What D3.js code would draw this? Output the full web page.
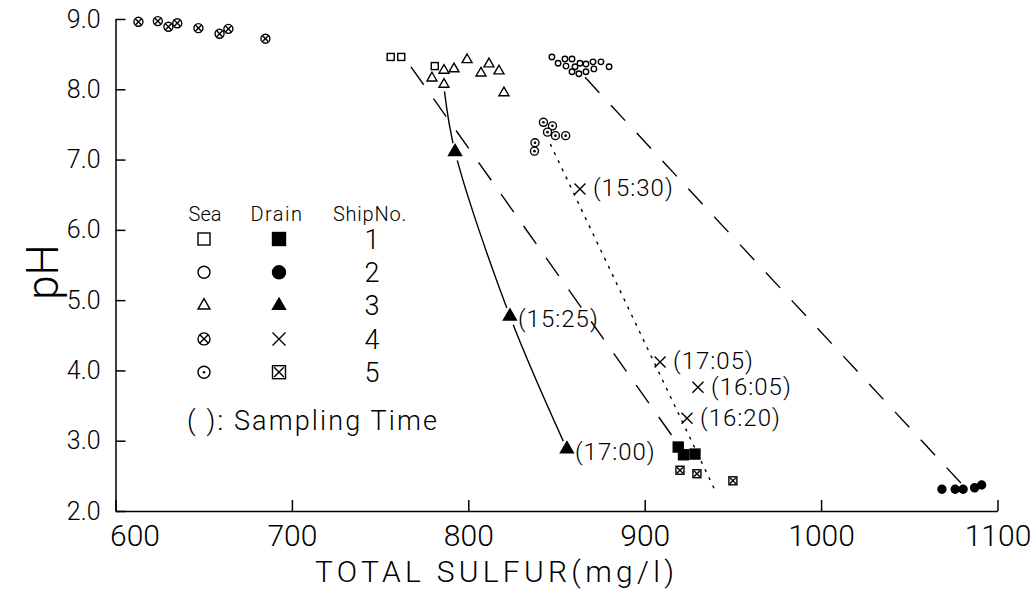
<!DOCTYPE html>
<html>
<head>
<meta charset="utf-8">
<script src="https://cdn.jsdelivr.net/npm/d3@7"></script>
<style>
  body { margin: 0; background: #fff; }
  svg { display: block; font-family: Roboto, "DejaVu Sans", sans-serif; font-weight: 300; }
</style>
</head>
<body>
<div id="chart"></div>
<script>
// Axis ticks
const xTicks = [600, 700, 800, 900, 1000, 1100];
const yTicks = [2, 3, 4, 5, 6, 7, 8, 9];

// Sea water samples [total sulfur mg/l, pH], one list per ship
const seaShip1 = [[756, 8.46], [762, 8.46], [781, 8.33]];
const seaShip2 = [
  [847.4, 8.46], [850.9, 8.37], [854.8, 8.43], [858.8, 8.43], [855.4, 8.33],
  [860.5, 8.32], [858.8, 8.25], [863.3, 8.37], [862.7, 8.22], [866.7, 8.36],
  [866.7, 8.25], [870.7, 8.39], [871.2, 8.29], [875.2, 8.39], [879.8, 8.32]
];
const seaShip3 = [
  [779.4, 8.16], [786.2, 8.27], [791.9, 8.29], [799.3, 8.42], [786.2, 8.07],
  [811.7, 8.36], [807.2, 8.23], [817.4, 8.26], [820.2, 7.95]
];
const seaShip4 = [
  [613, 8.96], [624, 8.97], [630, 8.89], [635, 8.94],
  [647, 8.87], [659, 8.79], [664, 8.86], [685, 8.72]
];
const seaShip5 = [
  [842.6, 7.53], [847.7, 7.48], [844.9, 7.39], [849.4, 7.34],
  [855.2, 7.34], [837.8, 7.24], [837.5, 7.12]
];

// Drain water samples
const drainShip1 = [[919, 2.91], [922, 2.80], [928.5, 2.81]];
const drainShip2 = [[1068.5, 2.31], [1076, 2.31], [1080.5, 2.31], [1087, 2.33], [1091, 2.37]];
const drainShip3 = [[792.5, 7.11], [823.6, 4.77], [855.9, 2.88]];
const drainShip3Times = ["", "(15:25)", "(17:00)"];
const drainShip4 = [[863.3, 6.58], [908.7, 4.12], [930.2, 3.76], [924.0, 3.32]];
const drainShip4Times = ["(15:30)", "(17:05)", "(16:05)", "(16:20)"];
const drainShip5 = [[920, 2.58], [929.6, 2.53], [950, 2.43]];

// Connecting lines
const lineShip1 = [[767.5, 8.32], [918.3, 2.97]];
const lineShip2 = [[866.2, 8.17], [1079.9, 2.38]];
const lineShip3 = [[786.5, 7.97], [792.5, 7.11], [823.6, 4.77], [855.9, 2.88]];
const lineShip5 = [[846.5, 7.22], [940.3, 2.27]];

// Legend rows: sea marker, drain marker, ship number
const legendSea = ["sq", "circ", "tri", "otimes", "odot"];
const legendDrain = ["sqf", "circf", "trif", "x", "boxx"];
const legendShip = ["1", "2", "3", "4", "5"];

const width = 1036, height = 592;
const svg = d3.select("#chart").append("svg")
  .attr("width", width).attr("height", height);

const x = d3.scaleLinear().domain([600, 1100]).range([115.5, 997.5]);
const y = d3.scaleLinear().domain([2, 9]).range([511, 19]);

// X axis, ticks pointing inward
const xAxis = svg.append("g")
  .attr("transform", "translate(0," + y(2) + ")")
  .call(d3.axisBottom(x).tickValues(xTicks).tickSizeInner(-11).tickSizeOuter(0)
    .tickPadding(14).tickFormat(d3.format("d")))
  .attr("font-family", null).attr("font-size", 30);
xAxis.selectAll("text").attr("fill", "#000");
xAxis.selectAll(".tick").filter(d => d === 600).select("text").attr("dx", 19);

// Y axis
const yAxis = svg.append("g")
  .attr("transform", "translate(" + x(600) + ",0)")
  .call(d3.axisLeft(y).tickValues(yTicks).tickSizeInner(-10).tickSizeOuter(0)
    .tickPadding(15).tickFormat(d3.format(".1f")))
  .attr("font-family", null).attr("font-size", 25);
yAxis.selectAll("text").attr("fill", "#000");

svg.selectAll(".domain, .tick line").attr("stroke", "#000").attr("stroke-width", 1.5);

// Axis titles
svg.append("text")
  .attr("x", 315).attr("y", 582)
  .attr("font-size", 30)
  .attr("textLength", 359).attr("lengthAdjust", "spacing")
  .text("TOTAL SULFUR(mg/l)");

svg.append("text")
  .attr("transform", "translate(58,272) rotate(-90)")
  .attr("text-anchor", "middle")
  .attr("font-size", 44)
  .text("pH");

// Lines
const line = d3.line().x(d => x(d[0])).y(d => y(d[1]));
const lines = svg.append("g").attr("fill", "none").attr("stroke", "#000").attr("stroke-width", 1.4);
lines.append("path").datum(lineShip1).attr("d", line).attr("stroke-dasharray", "22,17");
lines.append("path").datum(lineShip2).attr("d", line).attr("stroke-dasharray", "21,17");
lines.append("path").datum(lineShip5).attr("d", line).attr("stroke-dasharray", "3,6");
lines.append("path").datum(lineShip3).attr("d", line.curve(d3.curveCatmullRom.alpha(0.5)));

// Marker drawing
function drawMarker(g, kind, s) {
  const r = s / 2;
  g.attr("stroke", "#000").attr("stroke-width", 1.4).attr("fill", "none");
  if (kind === "sq" || kind === "sqf" || kind === "boxx") {
    g.append("rect").attr("x", -r).attr("y", -r).attr("width", s).attr("height", s)
      .attr("fill", kind === "sqf" ? "#000" : "#fff");
    if (kind === "boxx") {
      const k = r * 0.75;
      g.append("path").attr("d", `M${-k},${-k}L${k},${k}M${k},${-k}L${-k},${k}`);
    }
  } else if (kind === "circ" || kind === "circf" || kind === "otimes" || kind === "odot") {
    g.append("circle").attr("r", r).attr("fill", kind === "circf" ? "#000" : "#fff");
    if (kind === "otimes") {
      const k = r * 0.7;
      g.append("path").attr("d", `M${-k},${-k}L${k},${k}M${k},${-k}L${-k},${k}`);
    }
    if (kind === "odot") {
      g.append("circle").attr("r", 1.3).attr("fill", "#000").attr("stroke", "none");
    }
  } else if (kind === "tri" || kind === "trif") {
    const h = s * 0.866;
    g.append("path")
      .attr("d", `M0,${-h * 2 / 3}L${r},${h / 3}L${-r},${h / 3}Z`)
      .attr("fill", kind === "trif" ? "#000" : "#fff");
  } else if (kind === "x") {
    g.append("path").attr("d", `M${-r},${-r}L${r},${r}M${r},${-r}L${-r},${r}`);
  }
}

function plotSeries(data, kind, s, halo) {
  const g = svg.append("g");
  data.forEach(d => {
    const m = g.append("g").attr("transform", `translate(${x(d[0])},${y(d[1])})`);
    if (halo) m.append("circle").attr("r", halo).attr("fill", "#fff");
    drawMarker(m.append("g"), kind, s);
  });
}

plotSeries(seaShip4, "otimes", 9);
plotSeries(seaShip1, "sq", 7);
plotSeries(seaShip3, "tri", 10);
plotSeries(seaShip2, "circ", 5.5);
plotSeries(seaShip5, "odot", 8);

plotSeries(drainShip3, "trif", 13, 9);
plotSeries(drainShip4, "x", 11);
plotSeries(drainShip1, "sqf", 10);
plotSeries(drainShip5, "boxx", 8);
plotSeries(drainShip2, "circf", 8);

// Sampling time labels
const labels = svg.append("g").attr("font-size", 24).attr("letter-spacing", 1);
drainShip3.forEach((d, i) => {
  if (!drainShip3Times[i]) return;
  labels.append("text")
    .attr("x", x(d[0]) + 8).attr("y", y(d[1]) + 2)
    .attr("dy", "0.35em").text(drainShip3Times[i]);
});
drainShip4.forEach((d, i) => {
  labels.append("text")
    .attr("x", x(d[0]) + 13).attr("y", y(d[1]) - 1)
    .attr("dy", "0.35em").text(drainShip4Times[i]);
});

// Legend
const legend = svg.append("g");
const rowY = i => 239 + i * 33.3;
legend.append("text").attr("x", 205).attr("y", 221).attr("text-anchor", "middle")
  .attr("font-size", 20).text("Sea");
legend.append("text").attr("x", 277).attr("y", 221).attr("text-anchor", "middle")
  .attr("font-size", 20).attr("letter-spacing", 1.5).text("Drain");
legend.append("text").attr("x", 370).attr("y", 221).attr("text-anchor", "middle")
  .attr("font-size", 20).attr("letter-spacing", 0.8).text("ShipNo.");
legendShip.forEach((n, i) => {
  drawMarker(legend.append("g").attr("transform", `translate(204,${rowY(i)})`), legendSea[i], 12);
  drawMarker(legend.append("g").attr("transform", `translate(279,${rowY(i)})`), legendDrain[i], 13);
  legend.append("text").attr("x", 372).attr("y", rowY(i)).attr("dy", "0.36em")
    .attr("text-anchor", "middle").attr("font-size", 27).text(n);
});
legend.append("text").attr("x", 187).attr("y", 430)
  .attr("font-size", 27).attr("textLength", 250).attr("lengthAdjust", "spacing")
  .text("( ): Sampling Time");
</script>
</body>
</html>
